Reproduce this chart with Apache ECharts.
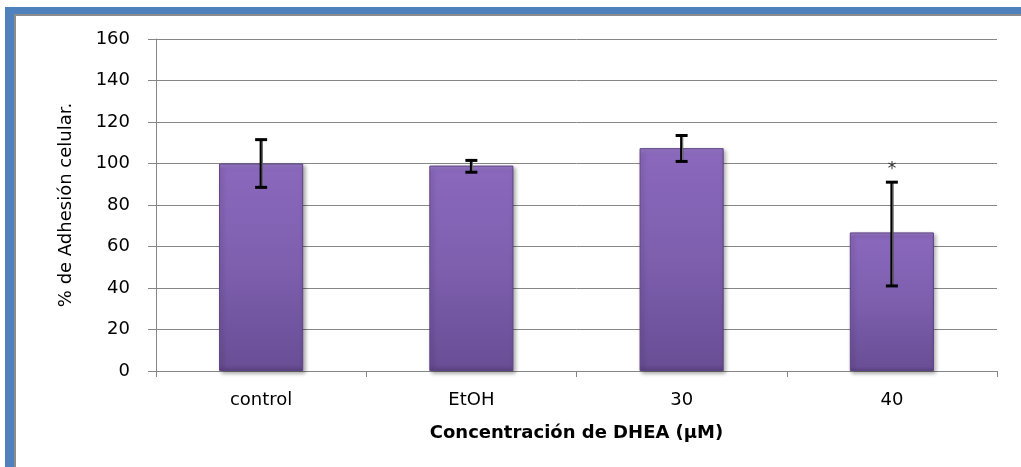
<!DOCTYPE html>
<html>
<head>
<meta charset="utf-8">
<script src="https://cdn.jsdelivr.net/npm/echarts@6/dist/echarts.min.js"></script>
<style>
  html, body { margin: 0; padding: 0; background: #fff; }
  #chart { width: 1021px; height: 467px; }
</style>
</head>
<body>
<div id="chart"></div>
<script>
const categories = ['control', 'EtOH', '30', '40']
const means = [100, 99, 107.4, 66.8]
const errLow = [88.5, 95.8, 101, 41]
const errHigh = [111.5, 101.5, 113.5, 91]
const marks = ['', '', '', '*']
const yTicks = { min: 0, max: 160, interval: 20 }

const chart = echarts.init(document.getElementById('chart'))

const errData = categories.map((c, i) => [i, errLow[i], errHigh[i], marks[i]])

chart.setOption({
  animation: false,
  graphic: [
    // frame: blue band with grey inner edge, top and left
    { type: 'rect', shape: { x: 5, y: 7, width: 1016, height: 8 }, style: { fill: '#4f81bd' } },
    { type: 'rect', shape: { x: 5, y: 7, width: 9, height: 460 }, style: { fill: '#4f81bd' } },
    { type: 'rect', shape: { x: 14, y: 14, width: 1007, height: 2 }, style: { fill: '#8c8c8c' } },
    { type: 'rect', shape: { x: 14, y: 14, width: 2, height: 453 }, style: { fill: '#8c8c8c' } },
  ],
  grid: {
    left: 156,
    right: 24,
    top: 39,
    bottom: 96,
  },
  xAxis: {
    type: 'category',
    data: categories,
    name: 'Concentración de DHEA (µM)',
    nameLocation: 'middle',
    nameGap: 53,
    nameTextStyle: {
      fontFamily: 'DejaVu Sans',
      fontWeight: 'bold',
      fontSize: 18,
      color: '#000',
    },
    axisLine: { lineStyle: { color: '#868686', width: 1 } },
    axisTick: { show: true, length: 6, lineStyle: { color: '#868686' } },
    axisLabel: {
      margin: 20,
      fontFamily: 'DejaVu Sans',
      fontSize: 18,
      color: '#000',
    },
  },
  yAxis: {
    type: 'value',
    min: yTicks.min,
    max: yTicks.max,
    interval: yTicks.interval,
    name: '% de Adhesión celular.',
    nameLocation: 'middle',
    nameGap: 81,
    nameTextStyle: {
      fontFamily: 'DejaVu Sans',
      fontSize: 18,
      color: '#000',
    },
    axisLine: { show: true, lineStyle: { color: '#868686' } },
    axisTick: { show: true, length: 8, lineStyle: { color: '#868686' } },
    splitLine: { lineStyle: { color: '#868686' } },
    axisLabel: {
      margin: 26,
      fontFamily: 'DejaVu Sans',
      fontSize: 18,
      color: '#000',
    },
  },
  series: [
    {
      type: 'bar',
      data: means,
      barWidth: '40%',
      itemStyle: {
        color: new echarts.graphic.LinearGradient(0, 0, 0, 1, [
          { offset: 0, color: '#9a7bcb' },
          { offset: 0.03, color: '#8a68bc' },
          { offset: 0.5, color: '#7d5fae' },
          { offset: 0.97, color: '#6a4e96' },
          { offset: 1, color: '#5b4283' },
        ]),
        borderColor: '#5c4484',
        borderWidth: 1,
        shadowColor: 'rgba(0,0,0,0.35)',
        shadowBlur: 4,
        shadowOffsetX: 2,
        shadowOffsetY: 2,
      },
    },
    {
      type: 'custom',
      data: errData,
      z: 10,
      renderItem(params, api) {
        const x = api.value(0)
        const lo = api.coord([x, api.value(1)])
        const hi = api.coord([x, api.value(2)])
        const cap = 10
        const children = [
          { type: 'line', shape: { x1: hi[0], y1: hi[1], x2: lo[0], y2: lo[1] }, style: { stroke: '#000', lineWidth: 3 } },
          { type: 'line', shape: { x1: hi[0] + 1, y1: hi[1], x2: lo[0] + 1, y2: lo[1] }, style: { stroke: '#7f7f7f', lineWidth: 1 } },
          { type: 'line', shape: { x1: hi[0] - cap / 2 - 1, y1: hi[1], x2: hi[0] + cap / 2 + 1, y2: hi[1] }, style: { stroke: '#000', lineWidth: 3 } },
          { type: 'line', shape: { x1: lo[0] - cap / 2 - 1, y1: lo[1], x2: lo[0] + cap / 2 + 1, y2: lo[1] }, style: { stroke: '#000', lineWidth: 3 } },
        ]
        const mark = api.value(3)
        if (mark) {
          children.push({
            type: 'text',
            style: {
              text: mark, x: hi[0], y: hi[1] - 4,
              textAlign: 'center', textVerticalAlign: 'bottom',
              fontFamily: 'DejaVu Sans', fontSize: 17, fill: '#333',
            },
          })
        }
        return { type: 'group', children }
      },
    },
  ],
})
</script>
</body>
</html>
